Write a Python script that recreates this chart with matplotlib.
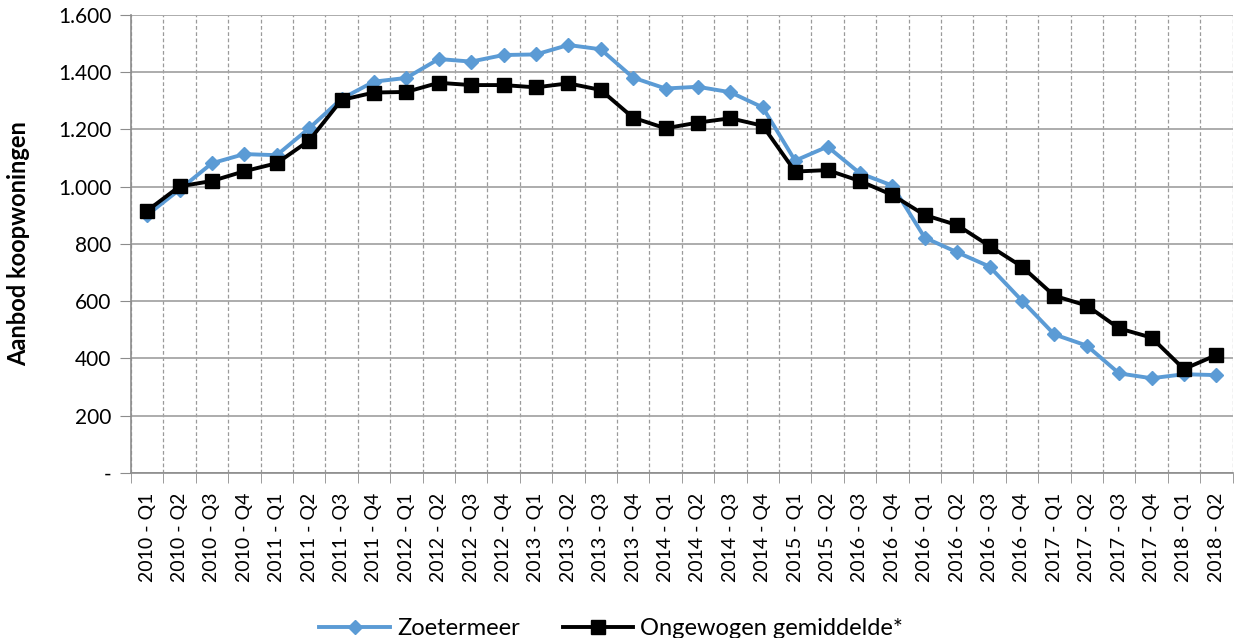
import matplotlib.pyplot as plt
import numpy as np
from matplotlib.ticker import FuncFormatter, FixedLocator

plt.rcParams['font.family'] = ['Lato', 'DejaVu Sans']

quarters = ['2010 - Q1', '2010 - Q2', '2010 - Q3', '2010 - Q4',
            '2011 - Q1', '2011 - Q2', '2011 - Q3', '2011 - Q4',
            '2012 - Q1', '2012 - Q2', '2012 - Q3', '2012 - Q4',
            '2013 - Q1', '2013 - Q2', '2013 - Q3', '2013 - Q4',
            '2014 - Q1', '2014 - Q2', '2014 - Q3', '2014 - Q4',
            '2015 - Q1', '2015 - Q2', '2016 - Q3', '2016 - Q4',
            '2016 - Q1', '2016 - Q2', '2016 - Q3', '2016 - Q4',
            '2017 - Q1', '2017 - Q2', '2017 - Q3', '2017 - Q4',
            '2018 - Q1', '2018 - Q2']

zoetermeer = [901, 990, 1082, 1114, 1110, 1204, 1307, 1367, 1380, 1446,
              1437, 1460, 1462, 1495, 1480, 1381, 1343, 1349, 1330, 1277,
              1091, 1140, 1047, 1004, 822, 771, 721, 602, 484, 445,
              348, 331, 345, 342]

gemiddelde = [916, 1001, 1020, 1054, 1082, 1161, 1303, 1329, 1331, 1363,
              1355, 1355, 1347, 1361, 1338, 1241, 1204, 1224, 1239, 1213,
              1053, 1058, 1020, 971, 901, 866, 793, 721, 619, 585,
              505, 473, 363, 412]

fig = plt.figure(figsize=(12.35, 6.38), dpi=100)
ax = fig.add_axes([0.106, 0.2586, 0.892, 0.718])

x = np.arange(len(quarters))
ax.plot(x, zoetermeer, color='#5B9BD5', lw=2.8, marker='D', ms=7,
        label='Zoetermeer', zorder=3)
ax.plot(x, gemiddelde, color='black', lw=2.8, marker='s', ms=10,
        label='Ongewogen gemiddelde*', zorder=4)

ax.set_xlim(-0.5, len(quarters) - 0.5)
ax.set_ylim(0, 1600)
ax.set_yticks(np.arange(0, 1601, 200))
ax.yaxis.set_major_formatter(FuncFormatter(
    lambda v, p: '-' if v == 0 else f'{int(v):,}'.replace(',', '.')))

ax.set_xticks(x)
ax.set_xticklabels(quarters, rotation=90)
ax.xaxis.set_minor_locator(FixedLocator(np.arange(-0.5, len(quarters), 1)))
ax.tick_params(axis='x', which='major', length=0, pad=14, labelsize=14)
ax.tick_params(axis='x', which='minor', length=7, color='#8c8c8c')
ax.tick_params(axis='y', length=8, color='#8c8c8c', labelsize=15, pad=6)

ax.grid(axis='y', color='#a6a6a6', lw=1.3)
ax.grid(axis='x', which='minor', color='#9a9a9a', lw=0.9, ls=(0, (3, 2)))
ax.set_axisbelow(True)

for s in ['top', 'right']:
    ax.spines[s].set_visible(False)
for s in ['left', 'bottom']:
    ax.spines[s].set_color('#8c8c8c')
    ax.spines[s].set_linewidth(1.2)

ax.set_ylabel('Aanbod koopwoningen', fontsize=17, fontweight='bold', labelpad=20)

fig.legend(loc='lower center', bbox_to_anchor=(0.495, -0.035), ncol=2,
           frameon=False, fontsize=17, handlelength=3, columnspacing=1.8,
           handletextpad=0.3)

fig.savefig('out.png', dpi=100)
